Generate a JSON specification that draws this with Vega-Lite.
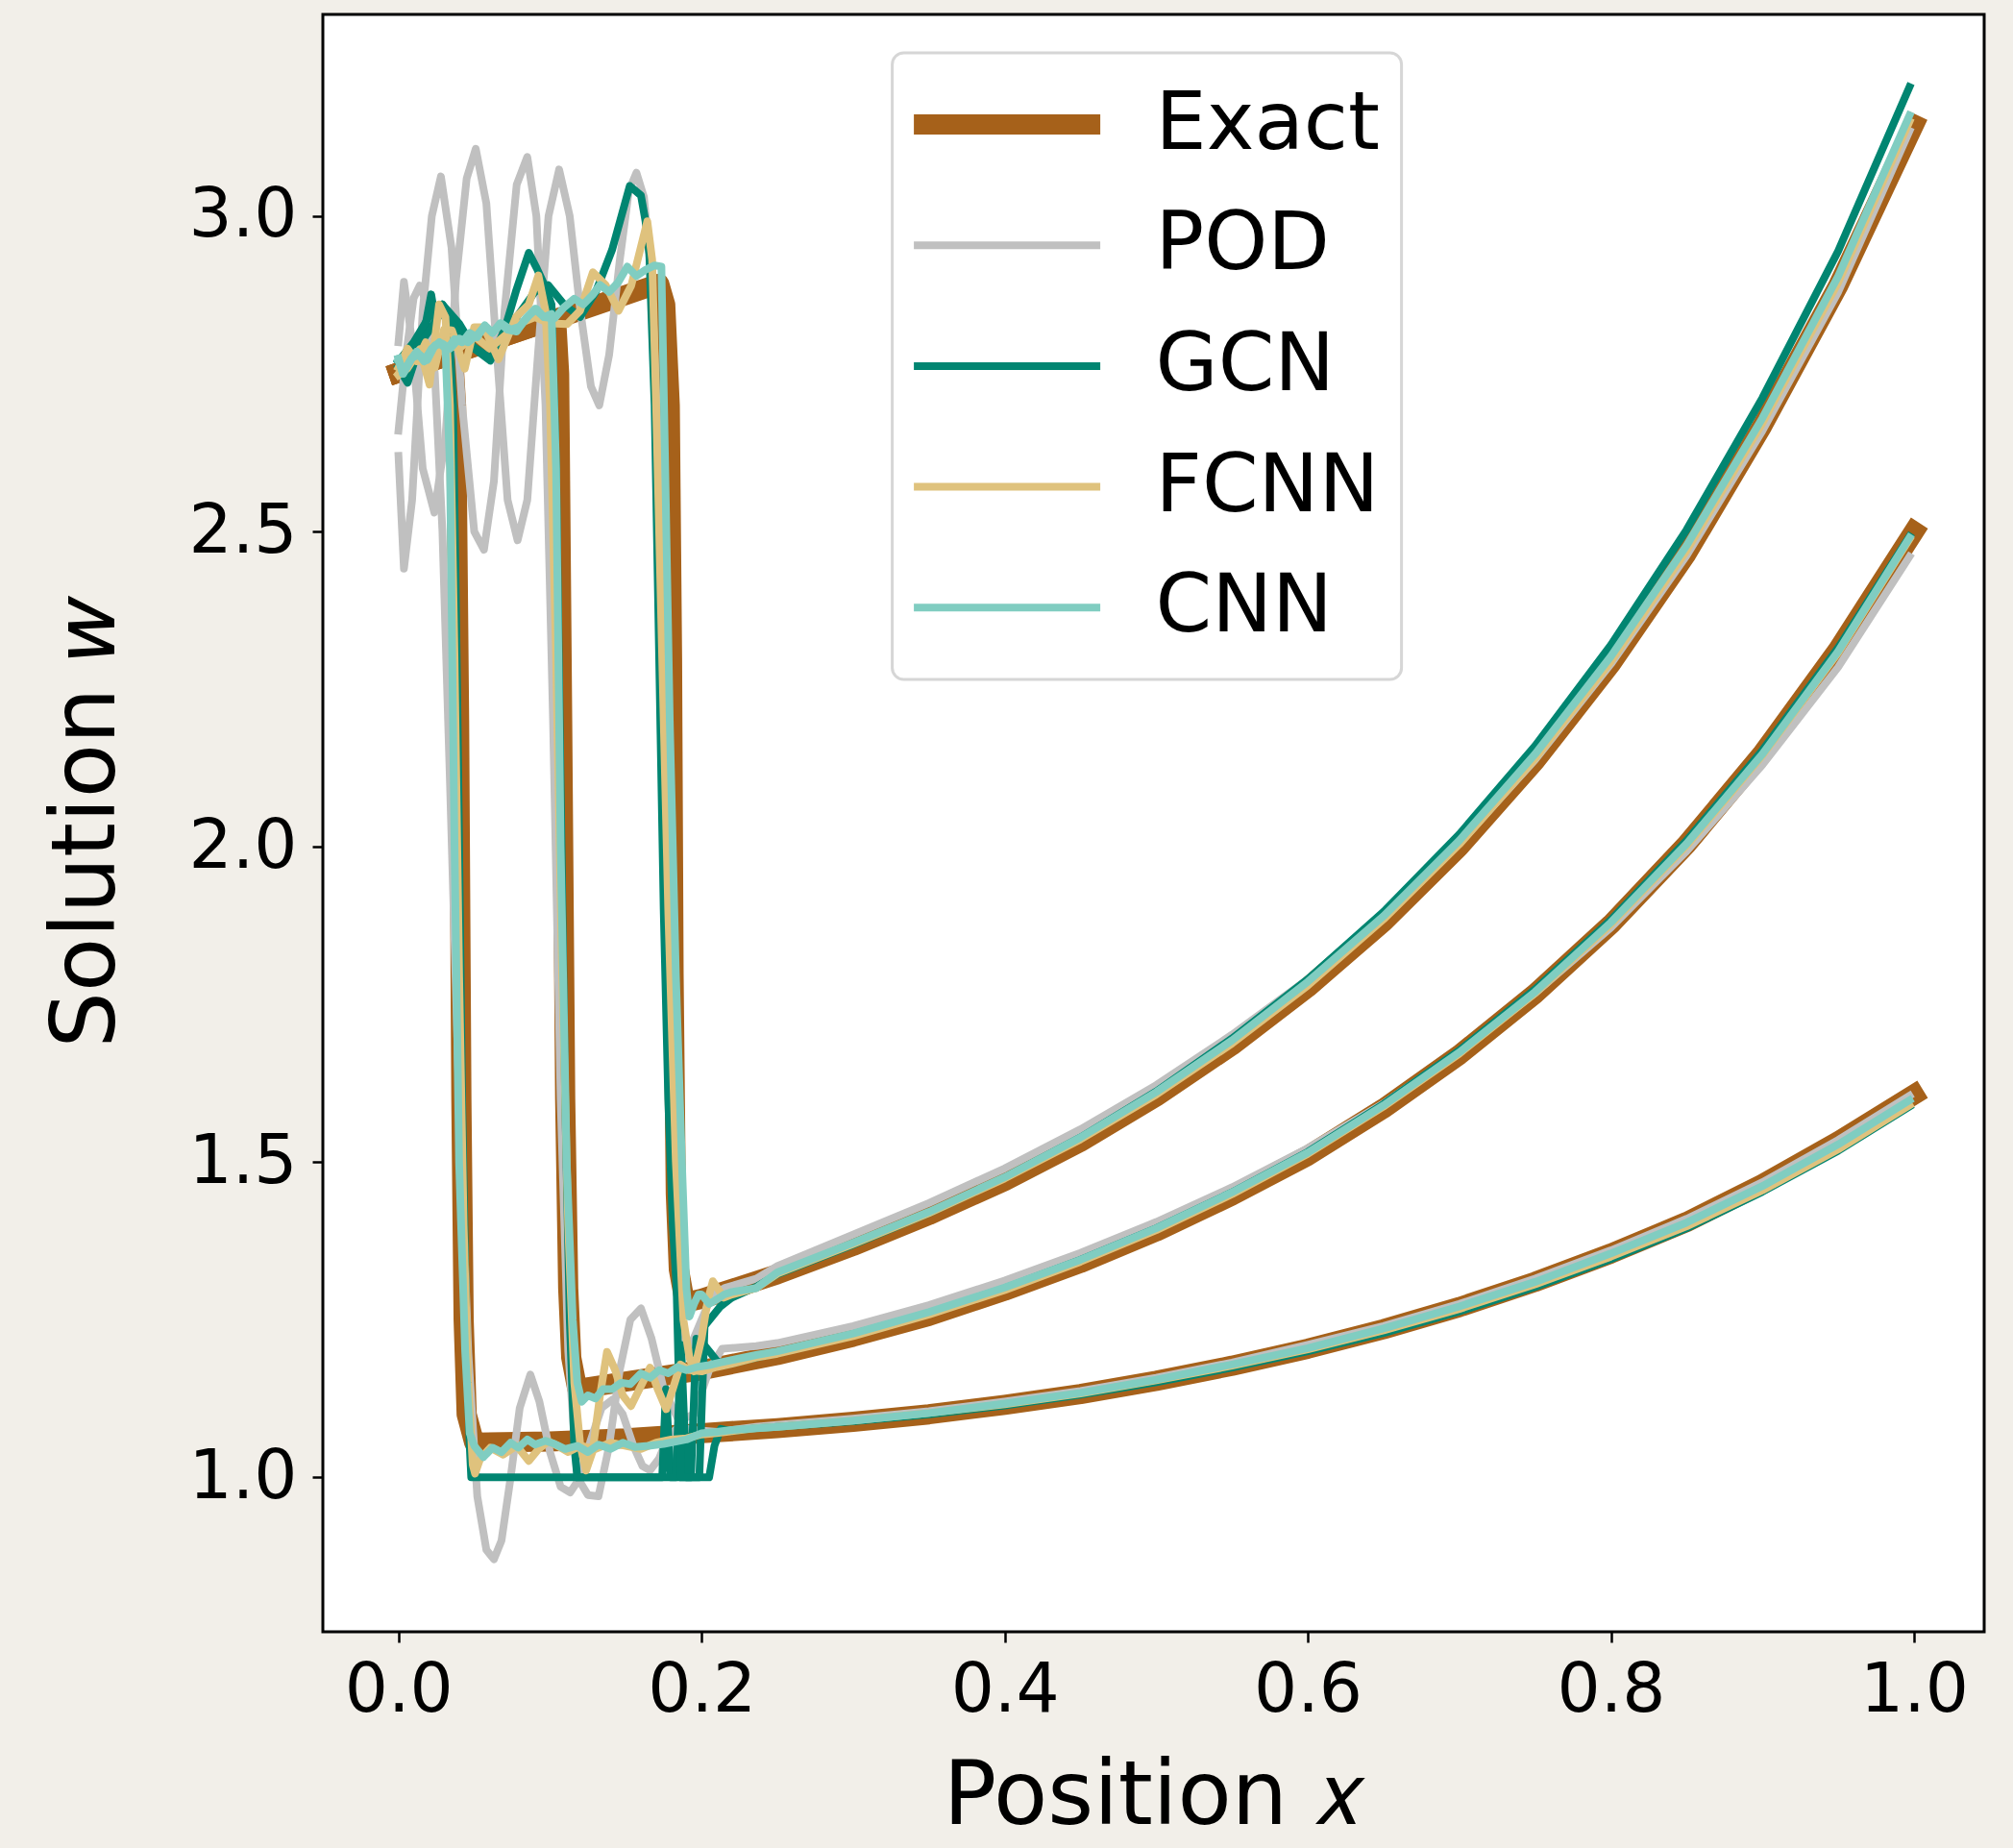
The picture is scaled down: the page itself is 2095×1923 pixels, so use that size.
{
"$schema": "https://vega.github.io/schema/vega-lite/v6.json",
"width": 1729, "height": 1683,
"autosize": {"type": "none"},
"padding": {"left": 336, "top": 15, "right": 30, "bottom": 225},
"background": "#f2efe9",
"config": {
 "font": "DejaVu Sans",
 "view": {"fill": "white", "stroke": "black", "strokeWidth": 3},
 "axis": {"grid": false, "domain": false, "tickColor": "black", "tickWidth": 2.5, "tickSize": 11, "labelFont": "DejaVu Sans", "labelFontSize": 71, "labelColor": "black", "titleFont": "DejaVu Sans", "titleFontSize": 92, "titleFontWeight": "normal", "titleColor": "black"},
 "legend": {"strokeWidth": 3, "labelLimit": 0}
},
"data": {"values": [
{"m":"Exact","c":"A","x":0,"y":2.752},{"m":"Exact","c":"A","x":0.036,"y":2.782},{"m":"Exact","c":"A","x":0.038,"y":2.7},{"m":"Exact","c":"A","x":0.04,"y":2.2},{"m":"Exact","c":"A","x":0.0415,"y":1.6},{"m":"Exact","c":"A","x":0.043,"y":1.25},{"m":"Exact","c":"A","x":0.045,"y":1.1},{"m":"Exact","c":"A","x":0.05,"y":1.055},{"m":"Exact","c":"A","x":0.1,"y":1.057},{"m":"Exact","c":"A","x":0.15,"y":1.062},{"m":"Exact","c":"A","x":0.2,"y":1.07},{"m":"Exact","c":"A","x":0.25,"y":1.078},{"m":"Exact","c":"A","x":0.3,"y":1.088},{"m":"Exact","c":"A","x":0.35,"y":1.1},{"m":"Exact","c":"A","x":0.4,"y":1.115},{"m":"Exact","c":"A","x":0.45,"y":1.132},{"m":"Exact","c":"A","x":0.5,"y":1.153},{"m":"Exact","c":"A","x":0.55,"y":1.177},{"m":"Exact","c":"A","x":0.6,"y":1.204},{"m":"Exact","c":"A","x":0.65,"y":1.235},{"m":"Exact","c":"A","x":0.7,"y":1.27},{"m":"Exact","c":"A","x":0.75,"y":1.31},{"m":"Exact","c":"A","x":0.8,"y":1.355},{"m":"Exact","c":"A","x":0.85,"y":1.405},{"m":"Exact","c":"A","x":0.9,"y":1.465},{"m":"Exact","c":"A","x":0.95,"y":1.533},{"m":"Exact","c":"A","x":1.0,"y":1.607},
{"m":"Exact","c":"B","x":0,"y":2.752},{"m":"Exact","c":"B","x":0.104,"y":2.837},{"m":"Exact","c":"B","x":0.106,"y":2.75},{"m":"Exact","c":"B","x":0.108,"y":2.2},{"m":"Exact","c":"B","x":0.11,"y":1.6},{"m":"Exact","c":"B","x":0.112,"y":1.3},{"m":"Exact","c":"B","x":0.114,"y":1.19},{"m":"Exact","c":"B","x":0.118,"y":1.14},{"m":"Exact","c":"B","x":0.15,"y":1.152},{"m":"Exact","c":"B","x":0.2,"y":1.17},{"m":"Exact","c":"B","x":0.25,"y":1.194},{"m":"Exact","c":"B","x":0.3,"y":1.223},{"m":"Exact","c":"B","x":0.35,"y":1.256},{"m":"Exact","c":"B","x":0.4,"y":1.296},{"m":"Exact","c":"B","x":0.45,"y":1.34},{"m":"Exact","c":"B","x":0.5,"y":1.39},{"m":"Exact","c":"B","x":0.55,"y":1.447},{"m":"Exact","c":"B","x":0.6,"y":1.51},{"m":"Exact","c":"B","x":0.65,"y":1.585},{"m":"Exact","c":"B","x":0.7,"y":1.67},{"m":"Exact","c":"B","x":0.75,"y":1.767},{"m":"Exact","c":"B","x":0.8,"y":1.877},{"m":"Exact","c":"B","x":0.85,"y":2.004},{"m":"Exact","c":"B","x":0.9,"y":2.148},{"m":"Exact","c":"B","x":0.95,"y":2.313},{"m":"Exact","c":"B","x":1.0,"y":2.5},
{"m":"Exact","c":"C","x":0,"y":2.752},{"m":"Exact","c":"C","x":0.172,"y":2.893},{"m":"Exact","c":"C","x":0.176,"y":2.86},{"m":"Exact","c":"C","x":0.179,"y":2.7},{"m":"Exact","c":"C","x":0.1805,"y":2.3},{"m":"Exact","c":"C","x":0.1815,"y":1.8},{"m":"Exact","c":"C","x":0.183,"y":1.45},{"m":"Exact","c":"C","x":0.185,"y":1.33},{"m":"Exact","c":"C","x":0.189,"y":1.277},{"m":"Exact","c":"C","x":0.2,"y":1.283},{"m":"Exact","c":"C","x":0.25,"y":1.322},{"m":"Exact","c":"C","x":0.3,"y":1.367},{"m":"Exact","c":"C","x":0.35,"y":1.416},{"m":"Exact","c":"C","x":0.4,"y":1.47},{"m":"Exact","c":"C","x":0.45,"y":1.532},{"m":"Exact","c":"C","x":0.5,"y":1.604},{"m":"Exact","c":"C","x":0.55,"y":1.685},{"m":"Exact","c":"C","x":0.6,"y":1.777},{"m":"Exact","c":"C","x":0.65,"y":1.881},{"m":"Exact","c":"C","x":0.7,"y":2.0},{"m":"Exact","c":"C","x":0.75,"y":2.136},{"m":"Exact","c":"C","x":0.8,"y":2.29},{"m":"Exact","c":"C","x":0.85,"y":2.465},{"m":"Exact","c":"C","x":0.9,"y":2.668},{"m":"Exact","c":"C","x":0.95,"y":2.89},{"m":"Exact","c":"C","x":1.0,"y":3.145},

{"m":"POD","c":"A","x":0,"y":2.66},{"m":"POD","c":"A","x":0.005,"y":2.78},{"m":"POD","c":"A","x":0.01,"y":2.87},{"m":"POD","c":"A","x":0.014,"y":2.89},{"m":"POD","c":"A","x":0.019,"y":2.86},{"m":"POD","c":"A","x":0.024,"y":2.75},{"m":"POD","c":"A","x":0.029,"y":2.5},{"m":"POD","c":"A","x":0.034,"y":2.1},{"m":"POD","c":"A","x":0.04,"y":1.6},{"m":"POD","c":"A","x":0.046,"y":1.2},{"m":"POD","c":"A","x":0.052,"y":0.97},{"m":"POD","c":"A","x":0.058,"y":0.885},{"m":"POD","c":"A","x":0.063,"y":0.87},{"m":"POD","c":"A","x":0.068,"y":0.9},{"m":"POD","c":"A","x":0.074,"y":1.0},{"m":"POD","c":"A","x":0.08,"y":1.11},{"m":"POD","c":"A","x":0.087,"y":1.163},{"m":"POD","c":"A","x":0.093,"y":1.12},{"m":"POD","c":"A","x":0.1,"y":1.04},{"m":"POD","c":"A","x":0.107,"y":0.985},{"m":"POD","c":"A","x":0.1133,"y":0.976},{"m":"POD","c":"A","x":0.12,"y":1.0},{"m":"POD","c":"A","x":0.127,"y":1.06},{"m":"POD","c":"A","x":0.134,"y":1.11},{"m":"POD","c":"A","x":0.141,"y":1.123},{"m":"POD","c":"A","x":0.148,"y":1.1},{"m":"POD","c":"A","x":0.155,"y":1.05},{"m":"POD","c":"A","x":0.161,"y":1.018},{"m":"POD","c":"A","x":0.166,"y":1.011},{"m":"POD","c":"A","x":0.172,"y":1.03},{"m":"POD","c":"A","x":0.178,"y":1.065},{"m":"POD","c":"A","x":0.185,"y":1.08},{"m":"POD","c":"A","x":0.195,"y":1.075},{"m":"POD","c":"A","x":0.21,"y":1.072},{"m":"POD","c":"A","x":0.236,"y":1.08},{"m":"POD","c":"A","x":0.25,"y":1.083},{"m":"POD","c":"A","x":0.3,"y":1.093},{"m":"POD","c":"A","x":0.35,"y":1.105},{"m":"POD","c":"A","x":0.4,"y":1.12},{"m":"POD","c":"A","x":0.45,"y":1.137},{"m":"POD","c":"A","x":0.5,"y":1.158},{"m":"POD","c":"A","x":0.55,"y":1.182},{"m":"POD","c":"A","x":0.6,"y":1.21},{"m":"POD","c":"A","x":0.65,"y":1.24},{"m":"POD","c":"A","x":0.7,"y":1.275},{"m":"POD","c":"A","x":0.75,"y":1.315},{"m":"POD","c":"A","x":0.8,"y":1.36},{"m":"POD","c":"A","x":0.85,"y":1.41},{"m":"POD","c":"A","x":0.9,"y":1.468},{"m":"POD","c":"A","x":0.95,"y":1.535},{"m":"POD","c":"A","x":0.997,"y":1.605},
{"m":"POD","c":"B","x":0,"y":2.62},{"m":"POD","c":"B","x":0.0036,"y":2.441},{"m":"POD","c":"B","x":0.009,"y":2.55},{"m":"POD","c":"B","x":0.016,"y":2.85},{"m":"POD","c":"B","x":0.022,"y":3.0},{"m":"POD","c":"B","x":0.028,"y":3.063},{"m":"POD","c":"B","x":0.035,"y":2.95},{"m":"POD","c":"B","x":0.042,"y":2.7},{"m":"POD","c":"B","x":0.05,"y":2.5},{"m":"POD","c":"B","x":0.0564,"y":2.471},{"m":"POD","c":"B","x":0.063,"y":2.58},{"m":"POD","c":"B","x":0.07,"y":2.85},{"m":"POD","c":"B","x":0.078,"y":3.05},{"m":"POD","c":"B","x":0.085,"y":3.094},{"m":"POD","c":"B","x":0.091,"y":3.0},{"m":"POD","c":"B","x":0.097,"y":2.7},{"m":"POD","c":"B","x":0.102,"y":2.2},{"m":"POD","c":"B","x":0.107,"y":1.6},{"m":"POD","c":"B","x":0.112,"y":1.2},{"m":"POD","c":"B","x":0.118,"y":1.0},{"m":"POD","c":"B","x":0.125,"y":0.972},{"m":"POD","c":"B","x":0.132,"y":0.97},{"m":"POD","c":"B","x":0.139,"y":1.05},{"m":"POD","c":"B","x":0.146,"y":1.17},{"m":"POD","c":"B","x":0.153,"y":1.25},{"m":"POD","c":"B","x":0.16,"y":1.268},{"m":"POD","c":"B","x":0.167,"y":1.22},{"m":"POD","c":"B","x":0.175,"y":1.14},{"m":"POD","c":"B","x":0.185,"y":1.09},{"m":"POD","c":"B","x":0.195,"y":1.1},{"m":"POD","c":"B","x":0.205,"y":1.17},{"m":"POD","c":"B","x":0.2135,"y":1.204},{"m":"POD","c":"B","x":0.236,"y":1.208},{"m":"POD","c":"B","x":0.25,"y":1.213},{"m":"POD","c":"B","x":0.3,"y":1.24},{"m":"POD","c":"B","x":0.35,"y":1.273},{"m":"POD","c":"B","x":0.4,"y":1.312},{"m":"POD","c":"B","x":0.45,"y":1.356},{"m":"POD","c":"B","x":0.5,"y":1.405},{"m":"POD","c":"B","x":0.55,"y":1.46},{"m":"POD","c":"B","x":0.6,"y":1.522},{"m":"POD","c":"B","x":0.65,"y":1.593},{"m":"POD","c":"B","x":0.7,"y":1.675},{"m":"POD","c":"B","x":0.75,"y":1.768},{"m":"POD","c":"B","x":0.8,"y":1.872},{"m":"POD","c":"B","x":0.85,"y":1.993},{"m":"POD","c":"B","x":0.9,"y":2.13},{"m":"POD","c":"B","x":0.95,"y":2.285},{"m":"POD","c":"B","x":0.997,"y":2.46},
{"m":"POD","c":"C","x":0,"y":2.8},{"m":"POD","c":"C","x":0.0036,"y":2.896},{"m":"POD","c":"C","x":0.009,"y":2.8},{"m":"POD","c":"C","x":0.016,"y":2.6},{"m":"POD","c":"C","x":0.0237,"y":2.53},{"m":"POD","c":"C","x":0.031,"y":2.65},{"m":"POD","c":"C","x":0.038,"y":2.9},{"m":"POD","c":"C","x":0.045,"y":3.06},{"m":"POD","c":"C","x":0.051,"y":3.107},{"m":"POD","c":"C","x":0.058,"y":3.02},{"m":"POD","c":"C","x":0.065,"y":2.78},{"m":"POD","c":"C","x":0.072,"y":2.55},{"m":"POD","c":"C","x":0.0786,"y":2.486},{"m":"POD","c":"C","x":0.085,"y":2.55},{"m":"POD","c":"C","x":0.092,"y":2.78},{"m":"POD","c":"C","x":0.099,"y":3.0},{"m":"POD","c":"C","x":0.106,"y":3.074},{"m":"POD","c":"C","x":0.113,"y":3.0},{"m":"POD","c":"C","x":0.12,"y":2.85},{"m":"POD","c":"C","x":0.127,"y":2.73},{"m":"POD","c":"C","x":0.1325,"y":2.7},{"m":"POD","c":"C","x":0.139,"y":2.78},{"m":"POD","c":"C","x":0.146,"y":2.93},{"m":"POD","c":"C","x":0.152,"y":3.04},{"m":"POD","c":"C","x":0.157,"y":3.069},{"m":"POD","c":"C","x":0.162,"y":3.03},{"m":"POD","c":"C","x":0.167,"y":2.9},{"m":"POD","c":"C","x":0.172,"y":2.6},{"m":"POD","c":"C","x":0.176,"y":2.1},{"m":"POD","c":"C","x":0.18,"y":1.6},{"m":"POD","c":"C","x":0.184,"y":1.3},{"m":"POD","c":"C","x":0.188,"y":1.22},{"m":"POD","c":"C","x":0.193,"y":1.21},{"m":"POD","c":"C","x":0.2,"y":1.25},{"m":"POD","c":"C","x":0.207,"y":1.29},{"m":"POD","c":"C","x":0.215,"y":1.3},{"m":"POD","c":"C","x":0.236,"y":1.315},{"m":"POD","c":"C","x":0.25,"y":1.335},{"m":"POD","c":"C","x":0.3,"y":1.385},{"m":"POD","c":"C","x":0.35,"y":1.435},{"m":"POD","c":"C","x":0.4,"y":1.49},{"m":"POD","c":"C","x":0.45,"y":1.552},{"m":"POD","c":"C","x":0.5,"y":1.622},{"m":"POD","c":"C","x":0.55,"y":1.702},{"m":"POD","c":"C","x":0.6,"y":1.79},{"m":"POD","c":"C","x":0.65,"y":1.89},{"m":"POD","c":"C","x":0.7,"y":2.005},{"m":"POD","c":"C","x":0.75,"y":2.138},{"m":"POD","c":"C","x":0.8,"y":2.29},{"m":"POD","c":"C","x":0.85,"y":2.462},{"m":"POD","c":"C","x":0.9,"y":2.66},{"m":"POD","c":"C","x":0.95,"y":2.88},{"m":"POD","c":"C","x":0.997,"y":3.135},

{"m":"GCN","c":"A","x":0,"y":2.76},{"m":"GCN","c":"A","x":0.006,"y":2.736},{"m":"GCN","c":"A","x":0.012,"y":2.78},{"m":"GCN","c":"A","x":0.018,"y":2.83},{"m":"GCN","c":"A","x":0.0216,"y":2.876},{"m":"GCN","c":"A","x":0.024,"y":2.84},{"m":"GCN","c":"A","x":0.029,"y":2.86},{"m":"GCN","c":"A","x":0.033,"y":2.84},{"m":"GCN","c":"A","x":0.036,"y":2.7},{"m":"GCN","c":"A","x":0.039,"y":2.2},{"m":"GCN","c":"A","x":0.042,"y":1.6},{"m":"GCN","c":"A","x":0.045,"y":1.2},{"m":"GCN","c":"A","x":0.047,"y":1.05},{"m":"GCN","c":"A","x":0.048,"y":1.0},{"m":"GCN","c":"A","x":0.174,"y":1.0},{"m":"GCN","c":"A","x":0.1765,"y":1.14},{"m":"GCN","c":"A","x":0.1795,"y":1.0},{"m":"GCN","c":"A","x":0.205,"y":1.0},{"m":"GCN","c":"A","x":0.2085,"y":1.05},{"m":"GCN","c":"A","x":0.2126,"y":1.077},{"m":"GCN","c":"A","x":0.22,"y":1.073},{"m":"GCN","c":"A","x":0.236,"y":1.078},{"m":"GCN","c":"A","x":0.25,"y":1.08},{"m":"GCN","c":"A","x":0.3,"y":1.089},{"m":"GCN","c":"A","x":0.35,"y":1.1},{"m":"GCN","c":"A","x":0.4,"y":1.114},{"m":"GCN","c":"A","x":0.45,"y":1.131},{"m":"GCN","c":"A","x":0.5,"y":1.151},{"m":"GCN","c":"A","x":0.55,"y":1.174},{"m":"GCN","c":"A","x":0.6,"y":1.2},{"m":"GCN","c":"A","x":0.65,"y":1.229},{"m":"GCN","c":"A","x":0.7,"y":1.263},{"m":"GCN","c":"A","x":0.75,"y":1.302},{"m":"GCN","c":"A","x":0.8,"y":1.346},{"m":"GCN","c":"A","x":0.85,"y":1.395},{"m":"GCN","c":"A","x":0.9,"y":1.453},{"m":"GCN","c":"A","x":0.95,"y":1.518},{"m":"GCN","c":"A","x":0.997,"y":1.588},
{"m":"GCN","c":"B","x":0,"y":2.77},{"m":"GCN","c":"B","x":0.01,"y":2.8},{"m":"GCN","c":"B","x":0.02,"y":2.84},{"m":"GCN","c":"B","x":0.029,"y":2.86},{"m":"GCN","c":"B","x":0.04,"y":2.83},{"m":"GCN","c":"B","x":0.05,"y":2.79},{"m":"GCN","c":"B","x":0.0606,"y":2.771},{"m":"GCN","c":"B","x":0.07,"y":2.82},{"m":"GCN","c":"B","x":0.0775,"y":2.881},{"m":"GCN","c":"B","x":0.086,"y":2.942},{"m":"GCN","c":"B","x":0.0913,"y":2.917},{"m":"GCN","c":"B","x":0.0965,"y":2.89},{"m":"GCN","c":"B","x":0.101,"y":2.86},{"m":"GCN","c":"B","x":0.104,"y":2.6},{"m":"GCN","c":"B","x":0.107,"y":2.1},{"m":"GCN","c":"B","x":0.11,"y":1.6},{"m":"GCN","c":"B","x":0.113,"y":1.25},{"m":"GCN","c":"B","x":0.116,"y":1.05},{"m":"GCN","c":"B","x":0.118,"y":1.0},{"m":"GCN","c":"B","x":0.183,"y":1.0},{"m":"GCN","c":"B","x":0.1865,"y":1.21},{"m":"GCN","c":"B","x":0.19,"y":1.0},{"m":"GCN","c":"B","x":0.193,"y":1.0},{"m":"GCN","c":"B","x":0.1965,"y":1.22},{"m":"GCN","c":"B","x":0.2,"y":1.215},{"m":"GCN","c":"B","x":0.205,"y":1.2},{"m":"GCN","c":"B","x":0.21,"y":1.185},{"m":"GCN","c":"B","x":0.215,"y":1.178},{"m":"GCN","c":"B","x":0.236,"y":1.19},{"m":"GCN","c":"B","x":0.25,"y":1.197},{"m":"GCN","c":"B","x":0.3,"y":1.226},{"m":"GCN","c":"B","x":0.35,"y":1.26},{"m":"GCN","c":"B","x":0.4,"y":1.3},{"m":"GCN","c":"B","x":0.45,"y":1.345},{"m":"GCN","c":"B","x":0.5,"y":1.395},{"m":"GCN","c":"B","x":0.55,"y":1.452},{"m":"GCN","c":"B","x":0.6,"y":1.516},{"m":"GCN","c":"B","x":0.65,"y":1.592},{"m":"GCN","c":"B","x":0.7,"y":1.677},{"m":"GCN","c":"B","x":0.75,"y":1.774},{"m":"GCN","c":"B","x":0.8,"y":1.884},{"m":"GCN","c":"B","x":0.85,"y":2.01},{"m":"GCN","c":"B","x":0.9,"y":2.153},{"m":"GCN","c":"B","x":0.95,"y":2.316},{"m":"GCN","c":"B","x":0.997,"y":2.492},
{"m":"GCN","c":"C","x":0,"y":2.77},{"m":"GCN","c":"C","x":0.015,"y":2.8},{"m":"GCN","c":"C","x":0.029,"y":2.85},{"m":"GCN","c":"C","x":0.045,"y":2.8},{"m":"GCN","c":"C","x":0.0606,"y":2.775},{"m":"GCN","c":"C","x":0.075,"y":2.83},{"m":"GCN","c":"C","x":0.09,"y":2.88},{"m":"GCN","c":"C","x":0.0987,"y":2.891},{"m":"GCN","c":"C","x":0.1092,"y":2.86},{"m":"GCN","c":"C","x":0.1198,"y":2.84},{"m":"GCN","c":"C","x":0.1304,"y":2.881},{"m":"GCN","c":"C","x":0.141,"y":2.947},{"m":"GCN","c":"C","x":0.1526,"y":3.048},{"m":"GCN","c":"C","x":0.16,"y":3.033},{"m":"GCN","c":"C","x":0.163,"y":2.992},{"m":"GCN","c":"C","x":0.1655,"y":2.94},{"m":"GCN","c":"C","x":0.169,"y":2.7},{"m":"GCN","c":"C","x":0.172,"y":2.3},{"m":"GCN","c":"C","x":0.175,"y":1.9},{"m":"GCN","c":"C","x":0.178,"y":1.6},{"m":"GCN","c":"C","x":0.181,"y":1.4},{"m":"GCN","c":"C","x":0.1835,"y":1.3},{"m":"GCN","c":"C","x":0.1865,"y":1.0},{"m":"GCN","c":"C","x":0.1985,"y":1.0},{"m":"GCN","c":"C","x":0.202,"y":1.24},{"m":"GCN","c":"C","x":0.207,"y":1.255},{"m":"GCN","c":"C","x":0.212,"y":1.27},{"m":"GCN","c":"C","x":0.22,"y":1.285},{"m":"GCN","c":"C","x":0.236,"y":1.302},{"m":"GCN","c":"C","x":0.25,"y":1.322},{"m":"GCN","c":"C","x":0.3,"y":1.369},{"m":"GCN","c":"C","x":0.35,"y":1.419},{"m":"GCN","c":"C","x":0.4,"y":1.475},{"m":"GCN","c":"C","x":0.45,"y":1.539},{"m":"GCN","c":"C","x":0.5,"y":1.612},{"m":"GCN","c":"C","x":0.55,"y":1.696},{"m":"GCN","c":"C","x":0.6,"y":1.79},{"m":"GCN","c":"C","x":0.65,"y":1.897},{"m":"GCN","c":"C","x":0.7,"y":2.02},{"m":"GCN","c":"C","x":0.75,"y":2.16},{"m":"GCN","c":"C","x":0.8,"y":2.32},{"m":"GCN","c":"C","x":0.85,"y":2.503},{"m":"GCN","c":"C","x":0.9,"y":2.712},{"m":"GCN","c":"C","x":0.95,"y":2.945},{"m":"GCN","c":"C","x":0.997,"y":3.205},

{"m":"FCNN","c":"A","x":0,"y":2.748},{"m":"FCNN","c":"A","x":0.0057,"y":2.758},{"m":"FCNN","c":"A","x":0.0141,"y":2.789},{"m":"FCNN","c":"A","x":0.0205,"y":2.733},{"m":"FCNN","c":"A","x":0.0268,"y":2.86},{"m":"FCNN","c":"A","x":0.031,"y":2.84},{"m":"FCNN","c":"A","x":0.034,"y":2.7},{"m":"FCNN","c":"A","x":0.037,"y":2.3},{"m":"FCNN","c":"A","x":0.04,"y":1.8},{"m":"FCNN","c":"A","x":0.043,"y":1.4},{"m":"FCNN","c":"A","x":0.046,"y":1.15},{"m":"FCNN","c":"A","x":0.049,"y":1.02},{"m":"FCNN","c":"A","x":0.0505,"y":1.006},{"m":"FCNN","c":"A","x":0.054,"y":1.03},{"m":"FCNN","c":"A","x":0.0606,"y":1.047},{"m":"FCNN","c":"A","x":0.0691,"y":1.036},{"m":"FCNN","c":"A","x":0.078,"y":1.05},{"m":"FCNN","c":"A","x":0.086,"y":1.026},{"m":"FCNN","c":"A","x":0.0925,"y":1.045},{"m":"FCNN","c":"A","x":0.0987,"y":1.057},{"m":"FCNN","c":"A","x":0.105,"y":1.05},{"m":"FCNN","c":"A","x":0.112,"y":1.04},{"m":"FCNN","c":"A","x":0.12,"y":1.05},{"m":"FCNN","c":"A","x":0.13,"y":1.045},{"m":"FCNN","c":"A","x":0.14,"y":1.055},{"m":"FCNN","c":"A","x":0.15,"y":1.05},{"m":"FCNN","c":"A","x":0.16,"y":1.045},{"m":"FCNN","c":"A","x":0.17,"y":1.055},{"m":"FCNN","c":"A","x":0.18,"y":1.06},{"m":"FCNN","c":"A","x":0.19,"y":1.062},{"m":"FCNN","c":"A","x":0.2,"y":1.068},{"m":"FCNN","c":"A","x":0.21,"y":1.07},{"m":"FCNN","c":"A","x":0.22,"y":1.073},{"m":"FCNN","c":"A","x":0.236,"y":1.078},{"m":"FCNN","c":"A","x":0.25,"y":1.08},{"m":"FCNN","c":"A","x":0.3,"y":1.09},{"m":"FCNN","c":"A","x":0.35,"y":1.102},{"m":"FCNN","c":"A","x":0.4,"y":1.116},{"m":"FCNN","c":"A","x":0.45,"y":1.133},{"m":"FCNN","c":"A","x":0.5,"y":1.154},{"m":"FCNN","c":"A","x":0.55,"y":1.177},{"m":"FCNN","c":"A","x":0.6,"y":1.203},{"m":"FCNN","c":"A","x":0.65,"y":1.233},{"m":"FCNN","c":"A","x":0.7,"y":1.267},{"m":"FCNN","c":"A","x":0.75,"y":1.306},{"m":"FCNN","c":"A","x":0.8,"y":1.35},{"m":"FCNN","c":"A","x":0.85,"y":1.398},{"m":"FCNN","c":"A","x":0.9,"y":1.455},{"m":"FCNN","c":"A","x":0.95,"y":1.52},{"m":"FCNN","c":"A","x":0.997,"y":1.59},
{"m":"FCNN","c":"B","x":0,"y":2.76},{"m":"FCNN","c":"B","x":0.006,"y":2.79},{"m":"FCNN","c":"B","x":0.012,"y":2.77},{"m":"FCNN","c":"B","x":0.018,"y":2.8},{"m":"FCNN","c":"B","x":0.024,"y":2.76},{"m":"FCNN","c":"B","x":0.03,"y":2.82},{"m":"FCNN","c":"B","x":0.0353,"y":2.819},{"m":"FCNN","c":"B","x":0.0437,"y":2.758},{"m":"FCNN","c":"B","x":0.05,"y":2.824},{"m":"FCNN","c":"B","x":0.0564,"y":2.824},{"m":"FCNN","c":"B","x":0.0659,"y":2.773},{"m":"FCNN","c":"B","x":0.0775,"y":2.84},{"m":"FCNN","c":"B","x":0.086,"y":2.86},{"m":"FCNN","c":"B","x":0.0923,"y":2.906},{"m":"FCNN","c":"B","x":0.097,"y":2.85},{"m":"FCNN","c":"B","x":0.1,"y":2.7},{"m":"FCNN","c":"B","x":0.104,"y":2.3},{"m":"FCNN","c":"B","x":0.108,"y":1.8},{"m":"FCNN","c":"B","x":0.112,"y":1.4},{"m":"FCNN","c":"B","x":0.116,"y":1.15},{"m":"FCNN","c":"B","x":0.12,"y":1.05},{"m":"FCNN","c":"B","x":0.1238,"y":1.011},{"m":"FCNN","c":"B","x":0.128,"y":1.04},{"m":"FCNN","c":"B","x":0.133,"y":1.13},{"m":"FCNN","c":"B","x":0.1376,"y":1.199},{"m":"FCNN","c":"B","x":0.143,"y":1.17},{"m":"FCNN","c":"B","x":0.148,"y":1.13},{"m":"FCNN","c":"B","x":0.1534,"y":1.113},{"m":"FCNN","c":"B","x":0.16,"y":1.145},{"m":"FCNN","c":"B","x":0.166,"y":1.174},{"m":"FCNN","c":"B","x":0.171,"y":1.14},{"m":"FCNN","c":"B","x":0.1767,"y":1.108},{"m":"FCNN","c":"B","x":0.181,"y":1.14},{"m":"FCNN","c":"B","x":0.186,"y":1.179},{"m":"FCNN","c":"B","x":0.192,"y":1.17},{"m":"FCNN","c":"B","x":0.2,"y":1.168},{"m":"FCNN","c":"B","x":0.21,"y":1.175},{"m":"FCNN","c":"B","x":0.22,"y":1.18},{"m":"FCNN","c":"B","x":0.236,"y":1.19},{"m":"FCNN","c":"B","x":0.25,"y":1.196},{"m":"FCNN","c":"B","x":0.3,"y":1.224},{"m":"FCNN","c":"B","x":0.35,"y":1.258},{"m":"FCNN","c":"B","x":0.4,"y":1.297},{"m":"FCNN","c":"B","x":0.45,"y":1.342},{"m":"FCNN","c":"B","x":0.5,"y":1.392},{"m":"FCNN","c":"B","x":0.55,"y":1.449},{"m":"FCNN","c":"B","x":0.6,"y":1.513},{"m":"FCNN","c":"B","x":0.65,"y":1.588},{"m":"FCNN","c":"B","x":0.7,"y":1.672},{"m":"FCNN","c":"B","x":0.75,"y":1.768},{"m":"FCNN","c":"B","x":0.8,"y":1.877},{"m":"FCNN","c":"B","x":0.85,"y":2.002},{"m":"FCNN","c":"B","x":0.9,"y":2.145},{"m":"FCNN","c":"B","x":0.95,"y":2.308},{"m":"FCNN","c":"B","x":0.997,"y":2.488},
{"m":"FCNN","c":"C","x":0,"y":2.75},{"m":"FCNN","c":"C","x":0.01,"y":2.78},{"m":"FCNN","c":"C","x":0.02,"y":2.76},{"m":"FCNN","c":"C","x":0.03,"y":2.8},{"m":"FCNN","c":"C","x":0.04,"y":2.79},{"m":"FCNN","c":"C","x":0.05,"y":2.81},{"m":"FCNN","c":"C","x":0.06,"y":2.79},{"m":"FCNN","c":"C","x":0.07,"y":2.81},{"m":"FCNN","c":"C","x":0.08,"y":2.83},{"m":"FCNN","c":"C","x":0.09,"y":2.84},{"m":"FCNN","c":"C","x":0.1,"y":2.83},{"m":"FCNN","c":"C","x":0.1113,"y":2.829},{"m":"FCNN","c":"C","x":0.1198,"y":2.85},{"m":"FCNN","c":"C","x":0.1283,"y":2.911},{"m":"FCNN","c":"C","x":0.1367,"y":2.891},{"m":"FCNN","c":"C","x":0.1452,"y":2.85},{"m":"FCNN","c":"C","x":0.1536,"y":2.89},{"m":"FCNN","c":"C","x":0.1642,"y":2.992},{"m":"FCNN","c":"C","x":0.1674,"y":2.931},{"m":"FCNN","c":"C","x":0.17,"y":2.7},{"m":"FCNN","c":"C","x":0.174,"y":2.3},{"m":"FCNN","c":"C","x":0.178,"y":1.9},{"m":"FCNN","c":"C","x":0.183,"y":1.5},{"m":"FCNN","c":"C","x":0.188,"y":1.25},{"m":"FCNN","c":"C","x":0.192,"y":1.19},{"m":"FCNN","c":"C","x":0.195,"y":1.168},{"m":"FCNN","c":"C","x":0.2,"y":1.22},{"m":"FCNN","c":"C","x":0.204,"y":1.28},{"m":"FCNN","c":"C","x":0.2074,"y":1.311},{"m":"FCNN","c":"C","x":0.2147,"y":1.285},{"m":"FCNN","c":"C","x":0.22,"y":1.29},{"m":"FCNN","c":"C","x":0.236,"y":1.3},{"m":"FCNN","c":"C","x":0.25,"y":1.323},{"m":"FCNN","c":"C","x":0.3,"y":1.37},{"m":"FCNN","c":"C","x":0.35,"y":1.419},{"m":"FCNN","c":"C","x":0.4,"y":1.474},{"m":"FCNN","c":"C","x":0.45,"y":1.536},{"m":"FCNN","c":"C","x":0.5,"y":1.607},{"m":"FCNN","c":"C","x":0.55,"y":1.688},{"m":"FCNN","c":"C","x":0.6,"y":1.78},{"m":"FCNN","c":"C","x":0.65,"y":1.885},{"m":"FCNN","c":"C","x":0.7,"y":2.004},{"m":"FCNN","c":"C","x":0.75,"y":2.14},{"m":"FCNN","c":"C","x":0.8,"y":2.294},{"m":"FCNN","c":"C","x":0.85,"y":2.47},{"m":"FCNN","c":"C","x":0.9,"y":2.672},{"m":"FCNN","c":"C","x":0.95,"y":2.895},{"m":"FCNN","c":"C","x":0.997,"y":3.15},

{"m":"CNN","c":"A","x":0,"y":2.774},{"m":"CNN","c":"A","x":0.003,"y":2.75},{"m":"CNN","c":"A","x":0.008,"y":2.772},{"m":"CNN","c":"A","x":0.012,"y":2.785},{"m":"CNN","c":"A","x":0.017,"y":2.77},{"m":"CNN","c":"A","x":0.022,"y":2.79},{"m":"CNN","c":"A","x":0.027,"y":2.8},{"m":"CNN","c":"A","x":0.031,"y":2.79},{"m":"CNN","c":"A","x":0.034,"y":2.6},{"m":"CNN","c":"A","x":0.037,"y":2.0},{"m":"CNN","c":"A","x":0.04,"y":1.5},{"m":"CNN","c":"A","x":0.044,"y":1.2},{"m":"CNN","c":"A","x":0.047,"y":1.07},{"m":"CNN","c":"A","x":0.05,"y":1.05},{"m":"CNN","c":"A","x":0.056,"y":1.032},{"m":"CNN","c":"A","x":0.062,"y":1.047},{"m":"CNN","c":"A","x":0.068,"y":1.04},{"m":"CNN","c":"A","x":0.074,"y":1.055},{"m":"CNN","c":"A","x":0.079,"y":1.047},{"m":"CNN","c":"A","x":0.085,"y":1.06},{"m":"CNN","c":"A","x":0.09,"y":1.052},{"m":"CNN","c":"A","x":0.097,"y":1.058},{"m":"CNN","c":"A","x":0.103,"y":1.053},{"m":"CNN","c":"A","x":0.11,"y":1.045},{"m":"CNN","c":"A","x":0.118,"y":1.05},{"m":"CNN","c":"A","x":0.125,"y":1.04},{"m":"CNN","c":"A","x":0.132,"y":1.052},{"m":"CNN","c":"A","x":0.14,"y":1.045},{"m":"CNN","c":"A","x":0.148,"y":1.055},{"m":"CNN","c":"A","x":0.156,"y":1.048},{"m":"CNN","c":"A","x":0.165,"y":1.05},{"m":"CNN","c":"A","x":0.175,"y":1.053},{"m":"CNN","c":"A","x":0.19,"y":1.06},{"m":"CNN","c":"A","x":0.2,"y":1.07},{"m":"CNN","c":"A","x":0.21,"y":1.072},{"m":"CNN","c":"A","x":0.22,"y":1.075},{"m":"CNN","c":"A","x":0.25,"y":1.08},{"m":"CNN","c":"A","x":0.3,"y":1.09},{"m":"CNN","c":"A","x":0.35,"y":1.102},{"m":"CNN","c":"A","x":0.4,"y":1.117},{"m":"CNN","c":"A","x":0.45,"y":1.134},{"m":"CNN","c":"A","x":0.5,"y":1.155},{"m":"CNN","c":"A","x":0.55,"y":1.179},{"m":"CNN","c":"A","x":0.6,"y":1.205},{"m":"CNN","c":"A","x":0.65,"y":1.236},{"m":"CNN","c":"A","x":0.7,"y":1.271},{"m":"CNN","c":"A","x":0.75,"y":1.31},{"m":"CNN","c":"A","x":0.8,"y":1.355},{"m":"CNN","c":"A","x":0.85,"y":1.404},{"m":"CNN","c":"A","x":0.9,"y":1.462},{"m":"CNN","c":"A","x":0.95,"y":1.528},{"m":"CNN","c":"A","x":0.997,"y":1.598},
{"m":"CNN","c":"B","x":0,"y":2.77},{"m":"CNN","c":"B","x":0.004,"y":2.755},{"m":"CNN","c":"B","x":0.009,"y":2.776},{"m":"CNN","c":"B","x":0.014,"y":2.78},{"m":"CNN","c":"B","x":0.019,"y":2.772},{"m":"CNN","c":"B","x":0.024,"y":2.795},{"m":"CNN","c":"B","x":0.029,"y":2.798},{"m":"CNN","c":"B","x":0.034,"y":2.79},{"m":"CNN","c":"B","x":0.04,"y":2.806},{"m":"CNN","c":"B","x":0.046,"y":2.8},{"m":"CNN","c":"B","x":0.052,"y":2.812},{"m":"CNN","c":"B","x":0.057,"y":2.826},{"m":"CNN","c":"B","x":0.062,"y":2.815},{"m":"CNN","c":"B","x":0.068,"y":2.83},{"m":"CNN","c":"B","x":0.074,"y":2.82},{"m":"CNN","c":"B","x":0.08,"y":2.825},{"m":"CNN","c":"B","x":0.086,"y":2.842},{"m":"CNN","c":"B","x":0.091,"y":2.853},{"m":"CNN","c":"B","x":0.096,"y":2.84},{"m":"CNN","c":"B","x":0.101,"y":2.845},{"m":"CNN","c":"B","x":0.104,"y":2.6},{"m":"CNN","c":"B","x":0.107,"y":2.0},{"m":"CNN","c":"B","x":0.111,"y":1.5},{"m":"CNN","c":"B","x":0.115,"y":1.25},{"m":"CNN","c":"B","x":0.118,"y":1.15},{"m":"CNN","c":"B","x":0.121,"y":1.12},{"m":"CNN","c":"B","x":0.125,"y":1.13},{"m":"CNN","c":"B","x":0.13,"y":1.125},{"m":"CNN","c":"B","x":0.135,"y":1.14},{"m":"CNN","c":"B","x":0.141,"y":1.14},{"m":"CNN","c":"B","x":0.147,"y":1.15},{"m":"CNN","c":"B","x":0.153,"y":1.148},{"m":"CNN","c":"B","x":0.16,"y":1.165},{"m":"CNN","c":"B","x":0.166,"y":1.158},{"m":"CNN","c":"B","x":0.172,"y":1.17},{"m":"CNN","c":"B","x":0.178,"y":1.165},{"m":"CNN","c":"B","x":0.184,"y":1.175},{"m":"CNN","c":"B","x":0.19,"y":1.17},{"m":"CNN","c":"B","x":0.197,"y":1.175},{"m":"CNN","c":"B","x":0.205,"y":1.178},{"m":"CNN","c":"B","x":0.212,"y":1.182},{"m":"CNN","c":"B","x":0.22,"y":1.186},{"m":"CNN","c":"B","x":0.236,"y":1.194},{"m":"CNN","c":"B","x":0.25,"y":1.2},{"m":"CNN","c":"B","x":0.3,"y":1.228},{"m":"CNN","c":"B","x":0.35,"y":1.262},{"m":"CNN","c":"B","x":0.4,"y":1.301},{"m":"CNN","c":"B","x":0.45,"y":1.345},{"m":"CNN","c":"B","x":0.5,"y":1.395},{"m":"CNN","c":"B","x":0.55,"y":1.452},{"m":"CNN","c":"B","x":0.6,"y":1.515},{"m":"CNN","c":"B","x":0.65,"y":1.59},{"m":"CNN","c":"B","x":0.7,"y":1.674},{"m":"CNN","c":"B","x":0.75,"y":1.77},{"m":"CNN","c":"B","x":0.8,"y":1.88},{"m":"CNN","c":"B","x":0.85,"y":2.005},{"m":"CNN","c":"B","x":0.9,"y":2.147},{"m":"CNN","c":"B","x":0.95,"y":2.31},{"m":"CNN","c":"B","x":0.997,"y":2.49},
{"m":"CNN","c":"C","x":0,"y":2.774},{"m":"CNN","c":"C","x":0.003,"y":2.75},{"m":"CNN","c":"C","x":0.008,"y":2.772},{"m":"CNN","c":"C","x":0.012,"y":2.785},{"m":"CNN","c":"C","x":0.017,"y":2.77},{"m":"CNN","c":"C","x":0.022,"y":2.79},{"m":"CNN","c":"C","x":0.027,"y":2.8},{"m":"CNN","c":"C","x":0.032,"y":2.788},{"m":"CNN","c":"C","x":0.037,"y":2.805},{"m":"CNN","c":"C","x":0.042,"y":2.8},{"m":"CNN","c":"C","x":0.047,"y":2.815},{"m":"CNN","c":"C","x":0.052,"y":2.808},{"m":"CNN","c":"C","x":0.057,"y":2.827},{"m":"CNN","c":"C","x":0.062,"y":2.815},{"m":"CNN","c":"C","x":0.067,"y":2.83},{"m":"CNN","c":"C","x":0.072,"y":2.82},{"m":"CNN","c":"C","x":0.078,"y":2.817},{"m":"CNN","c":"C","x":0.084,"y":2.838},{"m":"CNN","c":"C","x":0.09,"y":2.853},{"m":"CNN","c":"C","x":0.096,"y":2.84},{"m":"CNN","c":"C","x":0.103,"y":2.838},{"m":"CNN","c":"C","x":0.109,"y":2.855},{"m":"CNN","c":"C","x":0.116,"y":2.869},{"m":"CNN","c":"C","x":0.122,"y":2.86},{"m":"CNN","c":"C","x":0.128,"y":2.875},{"m":"CNN","c":"C","x":0.133,"y":2.891},{"m":"CNN","c":"C","x":0.139,"y":2.88},{"m":"CNN","c":"C","x":0.145,"y":2.895},{"m":"CNN","c":"C","x":0.151,"y":2.92},{"m":"CNN","c":"C","x":0.157,"y":2.905},{"m":"CNN","c":"C","x":0.163,"y":2.915},{"m":"CNN","c":"C","x":0.169,"y":2.922},{"m":"CNN","c":"C","x":0.1735,"y":2.92},{"m":"CNN","c":"C","x":0.176,"y":2.6},{"m":"CNN","c":"C","x":0.179,"y":2.2},{"m":"CNN","c":"C","x":0.183,"y":1.8},{"m":"CNN","c":"C","x":0.187,"y":1.5},{"m":"CNN","c":"C","x":0.19,"y":1.3},{"m":"CNN","c":"C","x":0.192,"y":1.255},{"m":"CNN","c":"C","x":0.195,"y":1.275},{"m":"CNN","c":"C","x":0.198,"y":1.29},{"m":"CNN","c":"C","x":0.2,"y":1.29},{"m":"CNN","c":"C","x":0.205,"y":1.275},{"m":"CNN","c":"C","x":0.21,"y":1.282},{"m":"CNN","c":"C","x":0.215,"y":1.29},{"m":"CNN","c":"C","x":0.22,"y":1.294},{"m":"CNN","c":"C","x":0.236,"y":1.3},{"m":"CNN","c":"C","x":0.25,"y":1.325},{"m":"CNN","c":"C","x":0.3,"y":1.372},{"m":"CNN","c":"C","x":0.35,"y":1.421},{"m":"CNN","c":"C","x":0.4,"y":1.476},{"m":"CNN","c":"C","x":0.45,"y":1.539},{"m":"CNN","c":"C","x":0.5,"y":1.611},{"m":"CNN","c":"C","x":0.55,"y":1.693},{"m":"CNN","c":"C","x":0.6,"y":1.786},{"m":"CNN","c":"C","x":0.65,"y":1.89},{"m":"CNN","c":"C","x":0.7,"y":2.01},{"m":"CNN","c":"C","x":0.75,"y":2.147},{"m":"CNN","c":"C","x":0.8,"y":2.302},{"m":"CNN","c":"C","x":0.85,"y":2.478},{"m":"CNN","c":"C","x":0.9,"y":2.68},{"m":"CNN","c":"C","x":0.95,"y":2.905},{"m":"CNN","c":"C","x":0.997,"y":3.16}
]},
"mark": {"type": "line", "strokeCap": "square", "strokeJoin": "round"},
"encoding": {
 "x": {"field": "x", "type": "quantitative", "scale": {"domain": [-0.0499, 1.0463], "nice": false, "zero": false},
  "axis": {"values": [0, 0.2, 0.4, 0.6, 0.8, 1.0], "format": ".1f", "title": "Position 𝑥", "labelPadding": 15, "titleY": 199, "titleBaseline": "alphabetic"}},
 "y": {"field": "y", "type": "quantitative", "scale": {"domain": [0.7551, 3.32], "nice": false, "zero": false},
  "axis": {"values": [1.0, 1.5, 2.0, 2.5, 3.0], "format": ".1f", "title": "Solution 𝑤", "labelPadding": 16, "titleX": -218, "titleY": 841, "titleAngle": 270, "titleBaseline": "alphabetic", "titleAlign": "center"}},
 "color": {"field": "m", "type": "nominal",
  "scale": {"domain": ["Exact", "POD", "GCN", "FCNN", "CNN"], "range": ["#a6611a", "#c0c0c0", "#018571", "#dfc27d", "#80cdc1"]},
  "legend": {"title": null, "orient": "none", "legendX": 592.6, "legendY": 40, "symbolType": "stroke", "symbolSize": 37636, "symbolOffset": -10, "labelFontSize": 84, "labelColor": "black", "labelOffset": 47, "labelLimit": 0, "padding": 22, "clipHeight": 105, "rowPadding": 20.7, "fillColor": "white", "strokeColor": "#d6d6d6", "cornerRadius": 12}},
 "strokeWidth": {"field": "m", "type": "nominal",
  "scale": {"type": "ordinal", "domain": ["Exact", "POD", "GCN", "FCNN", "CNN"], "range": [21, 8, 8, 8, 8]},
  "legend": {"title": null, "orient": "none", "legendX": 592.6, "legendY": 40, "symbolType": "stroke", "symbolSize": 37636, "symbolOffset": -10, "labelFontSize": 84, "labelColor": "black", "labelOffset": 47, "labelLimit": 0, "padding": 22, "clipHeight": 105, "rowPadding": 20.7, "fillColor": "white", "strokeColor": "#d6d6d6", "cornerRadius": 12}},
 "detail": {"field": "c"}
}
}
